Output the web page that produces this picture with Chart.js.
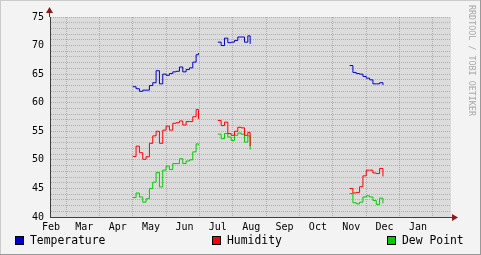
<!DOCTYPE html>
<html>
<head>
<meta charset="utf-8">
<script src="https://cdn.jsdelivr.net/npm/chart.js@4/dist/chart.umd.min.js"></script>
<style>
  html, body { margin: 0; padding: 0; background: #f3f3f3; }
  canvas { display: block; }
</style>
</head>
<body>
<canvas id="weather" width="481" height="255"></canvas>
<script>
// month labels along the bottom (placed mid-month, grid at month start)
const monthLabels = ["Feb", "Mar", "Apr", "May", "Jun", "Jul", "Aug", "Sep", "Oct", "Nov", "Dec", "Jan"];

// sample positions in months (0 = 1 Feb); null rows break the line
const monthPos = [
  3.0, 3.1, 3.2, 3.3, 3.4, 3.5, 3.6, 3.7, 3.8, 3.9, 4.0, 4.1, 4.2, 4.3, 4.4, 4.5, 4.6, 4.7, 4.8, 4.9, 4.97,
  5.25,
  5.55, 5.65, 5.75, 5.85, 5.95, 6.05, 6.15, 6.25, 6.35, 6.45, 6.52,
  8.0,
  9.5, 9.6, 9.7, 9.8, 9.9, 10.0, 10.1, 10.2, 10.3, 10.4, 10.5
];

const temperature = [
  62.8, 62.45, 62.0, 62.2, 62.2, 63.0, 63.5, 65.6, 63.3, 65.0, 64.8, 65.1, 65.4, 65.5, 66.25, 65.4, 65.8, 66.1, 67.1, 68.4, 68.7,
  null,
  70.6, 70.0, 71.3, 70.5, 70.6, 70.9, 71.5, 71.5, 70.6, 71.7, 70.3,
  null,
  66.5, 65.3, 65.1, 65.0, 64.6, 64.3, 64.0, 63.3, 63.3, 63.5, 63.1
];

const humidity = [
  50.6, 52.4, 51.25, 50.1, 50.55, 52.9, 54.2, 55.0, 52.9, 55.2, 55.9, 55.2, 56.4, 56.5, 56.8, 56.1, 56.7, 56.7, 57.55, 58.8, 57.15,
  null,
  56.9, 56.0, 56.6, 54.6, 54.3, 55.0, 55.7, 55.6, 54.3, 54.8, 52.4,
  null,
  45.0, 44.2, 44.3, 45.3, 47.2, 48.2, 48.2, 47.7, 47.6, 48.5, 47.1
];

const dewPoint = [
  43.4, 44.2, 43.5, 42.6, 43.2, 45.0, 46.1, 47.8, 45.25, 48.2, 48.9, 48.3, 49.35, 49.35, 50.2, 49.35, 49.8, 50.0, 51.4, 52.8, 52.55,
  null,
  54.5, 53.7, 54.6, 54.0, 53.4, 54.3, 54.7, 54.5, 53.1, 54.2, 51.8,
  null,
  44.1, 42.5, 42.3, 42.6, 43.5, 43.7, 43.5, 42.9, 42.2, 43.3, 42.4
];

const yMin = 40, yMax = 75;
const xMin = 0.52, xMax = 12.54;

const MONO = "'DejaVu Sans Mono', monospace";

function points(values) {
  return monthPos.map((x, i) => ({ x: x, y: values[i] }));
}

// rrdtool-like frame, canvas fill, axis arrows, legend and watermark
const rrdLook = {
  id: "rrdLook",
  beforeDraw(chart) {
    const { ctx, chartArea: a } = chart;
    ctx.save();
    ctx.fillStyle = "#f3f3f3";
    ctx.fillRect(0, 0, chart.width, chart.height);
    ctx.fillStyle = "#cbcbcb";
    ctx.fillRect(0, 0, chart.width, 1);
    ctx.fillRect(0, 0, 1, chart.height);
    ctx.fillStyle = "#999999";
    ctx.fillRect(0, chart.height - 1, chart.width, 1);
    ctx.fillRect(chart.width - 1, 0, 1, chart.height);
    ctx.fillStyle = "#dcdcdc";
    ctx.fillRect(a.left, a.top, a.right - a.left, a.bottom - a.top);
    ctx.restore();
  },
  afterDraw(chart) {
    const { ctx, chartArea: a } = chart;
    ctx.save();
    // axis extensions + arrows
    ctx.strokeStyle = "#404040";
    ctx.lineWidth = 1;
    ctx.beginPath();
    ctx.moveTo(a.left - 0.5, a.top);
    ctx.lineTo(a.left - 0.5, a.top - 6);
    ctx.moveTo(a.right, a.bottom + 0.5);
    ctx.lineTo(a.right + 4, a.bottom + 0.5);
    ctx.stroke();
    ctx.fillStyle = "#8b1a1a";
    ctx.beginPath();
    ctx.moveTo(a.left - 4, a.top - 4);
    ctx.lineTo(a.left + 3, a.top - 4);
    ctx.lineTo(a.left - 0.5, a.top - 10);
    ctx.closePath();
    ctx.fill();
    ctx.beginPath();
    ctx.moveTo(a.right + 1, a.bottom - 3);
    ctx.lineTo(a.right + 1, a.bottom + 4);
    ctx.lineTo(a.right + 7, a.bottom + 0.5);
    ctx.closePath();
    ctx.fill();

    // legend
    const legendX = [15, 212, 387];
    ctx.font = "11.4px " + MONO;
    ctx.textBaseline = "middle";
    chart.data.datasets.forEach((ds, i) => {
      const x = legendX[i];
      ctx.fillStyle = ds.borderColor;
      ctx.fillRect(x, 236, 9, 9);
      ctx.strokeStyle = "#000";
      ctx.strokeRect(x + 0.5, 236.5, 8, 8);
      ctx.fillStyle = "#000";
      ctx.fillText(ds.label, x + 15, 241);
    });

    // watermark
    ctx.translate(468, 5);
    ctx.rotate(Math.PI / 2);
    ctx.font = "8.4px " + MONO;
    ctx.fillStyle = "#a8a8a8";
    ctx.textBaseline = "middle";
    ctx.fillText("RRDTOOL / TOBI OETIKER", 0, -3);
    ctx.restore();
  }
};

new Chart(document.getElementById("weather"), {
  type: "line",
  data: {
    datasets: [
      { label: "Temperature", data: points(temperature), borderColor: "#0000cc" },
      { label: "Humidity", data: points(humidity), borderColor: "#ff0000" },
      { label: "Dew Point", data: points(dewPoint), borderColor: "#00cc00" }
    ]
  },
  options: {
    responsive: false,
    animation: false,
    devicePixelRatio: 1,
    spanGaps: false,
    layout: { padding: { left: 10, top: 17, right: 30, bottom: 0 } },
    elements: {
      line: { borderWidth: 1, stepped: true, fill: false },
      point: { radius: 0 }
    },
    plugins: {
      legend: { display: false },
      tooltip: { enabled: false }
    },
    scales: {
      x: {
        type: "linear",
        min: xMin,
        max: xMax,
        afterBuildTicks: s => { s.ticks = monthLabels.map((_, i) => ({ value: i + 1 })); },
        afterFit: s => { s.height = 0; },
        ticks: { display: false },
        grid: { color: "rgba(200, 40, 40, 0.35)", drawTicks: false },
        border: { display: true, color: "#404040", dash: [1, 1] }
      },
      xLabels: {
        type: "linear",
        position: "bottom",
        min: xMin,
        max: xMax,
        afterBuildTicks: s => { s.ticks = monthLabels.map((_, i) => ({ value: i + 0.55 })); },
        afterFit: s => { s.height = 38; },
        ticks: {
          padding: 4,
          maxRotation: 0,
          autoSkip: false,
          color: "#000",
          font: { family: MONO, size: 10 },
          callback: (v, i) => monthLabels[i]
        },
        grid: { display: false, drawTicks: false },
        border: { display: false }
      },
      y: {
        min: yMin,
        max: yMax,
        afterFit: s => { s.width = 40; },
        ticks: {
          stepSize: 1,
          padding: 6,
          autoSkip: false,
          color: "#000",
          font: { family: MONO, size: 10 },
          callback: v => (v % 5 === 0 ? String(v) : "")
        },
        grid: {
          drawTicks: false,
          color: c => (c.tick && c.tick.value % 5 === 0 ? "rgba(200, 40, 40, 0.35)" : "rgba(120, 120, 120, 0.45)")
        },
        border: { display: true, color: "#404040", dash: [1, 1] }
      }
    }
  },
  plugins: [rrdLook]
});
</script>
</body>
</html>
